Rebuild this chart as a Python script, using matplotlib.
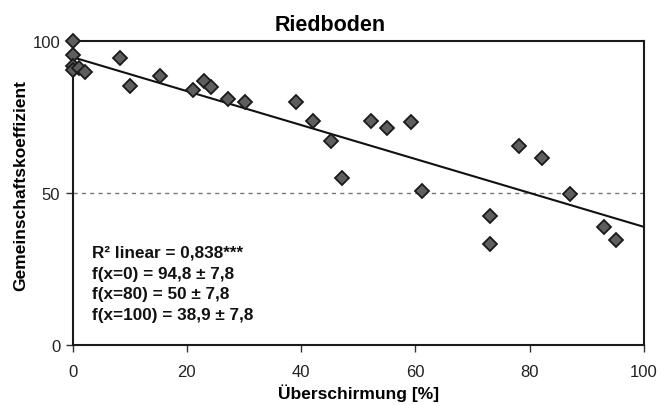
import numpy as np
import matplotlib
matplotlib.use("Agg")
import matplotlib.pyplot as plt

plt.rcParams['font.family'] = ['Liberation Sans', 'DejaVu Sans']

# Überschirmung [%] vs. Gemeinschaftskoeffizient
ueberschirmung = [0, 0, 0, 0, 1.1, 2.2, 8.2, 10.1, 15.2, 21.1, 23.0, 24.2, 27.2, 30.2,
                  39.1, 42.1, 45.2, 47.1, 52.2, 55.0, 59.2, 61.1, 73.0, 73.0, 78.1,
                  82.1, 87.0, 93.0, 95.1]
gemeinschaft = [100, 95.5, 91.8, 90.6, 91.1, 90.0, 94.5, 85.2, 88.6, 84.1, 87.0, 84.9,
                81.0, 80.2, 80.1, 73.7, 67.3, 54.9, 73.8, 71.5, 73.3, 50.7, 42.6, 33.3,
                65.4, 61.7, 49.7, 38.9, 34.5]

# linear fit as given in the chart
fit_intercept = 94.8
fit_slope = (38.9 - 94.8) / 100
fit_x = [0, 100]

stats_text = ["R\u00b2 linear = 0,838***",
              "f(x=0) = 94,8 \u00b1 7,8",
              "f(x=80) = 50 \u00b1 7,8",
              "f(x=100) = 38,9 \u00b1 7,8"]

fig = plt.figure(figsize=(6.7, 4.06), dpi=100)
ax = fig.add_axes([0.1085, 0.148, 0.8525, 0.7475])

# reference line at 50
ax.axhline(50, color='#777777', linestyle=(0, (3, 3)), linewidth=1.0, zorder=1)

fy = [fit_intercept + fit_slope * x for x in fit_x]
ax.plot(fit_x, fy, color='#111111', linewidth=1.5, zorder=2)

ax.plot(ueberschirmung, gemeinschaft, linestyle='none', marker='D', markersize=6.7,
        markerfacecolor='#5e5e5e', markeredgecolor='#1a1a1a', markeredgewidth=1.3,
        clip_on=False, zorder=3)

ax.set_xlim(0, 100)
ax.set_ylim(0, 100)
ax.set_xticks([0, 20, 40, 60, 80, 100])
ax.set_yticks([0, 50, 100])

for s in ax.spines.values():
    s.set_linewidth(1.5)
    s.set_color('#1a1a1a')

ax.tick_params(axis='both', direction='out', length=5, width=1.0, color='#333333',
               labelsize=12, labelcolor='#222222')
ax.tick_params(axis='x', pad=9)
ax.tick_params(axis='y', pad=4)

# title is centred over the whole chart, not the plot area
fig.text(0.493, 0.938, "Riedboden", fontsize=15.5, fontweight='bold',
         ha='center', va='center')
ax.set_xlabel("\u00dcberschirmung [%]", fontsize=12.5, fontweight='bold')
ax.set_ylabel("Gemeinschaftskoeffizient", fontsize=12.5, fontweight='bold')
ax.xaxis.set_label_coords(0.5, -0.128)
ax.yaxis.set_label_coords(-0.078, 0.53)

ax.text(0.033, 0.2025, "\n".join(stats_text), transform=ax.transAxes, fontsize=12.3,
        fontweight='bold', va='center', ha='left', linespacing=1.49, color='#111111')

fig.savefig("out.png", dpi=100)
